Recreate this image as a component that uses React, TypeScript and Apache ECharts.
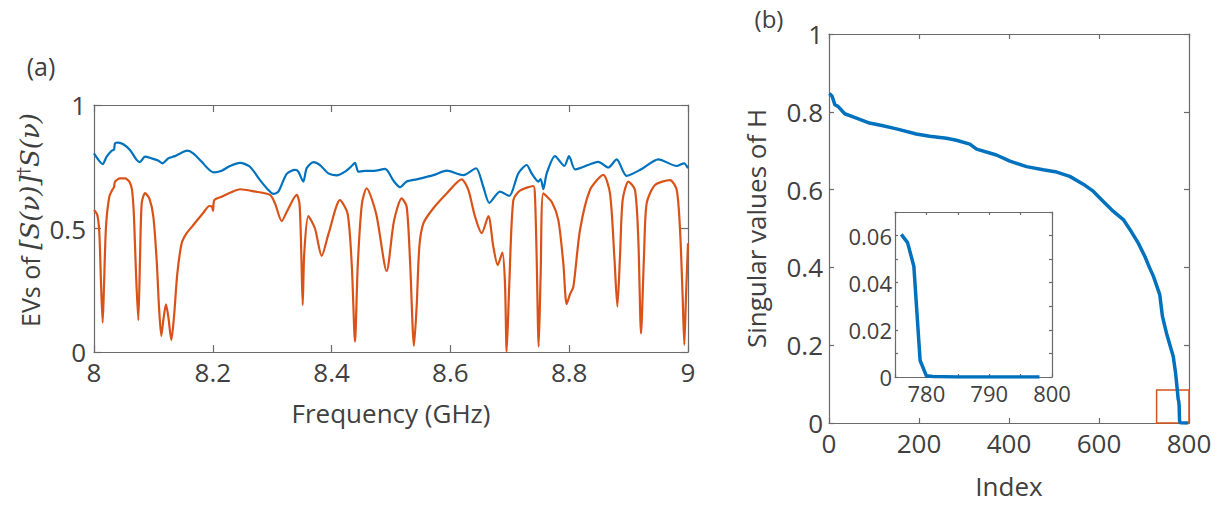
import React, { useEffect, useRef } from "react";
import * as echarts from "echarts";

// ---- Panel (a): eigenvalues vs frequency ----
const freqBlue = [
  8.0, 8.0146, 8.0213, 8.0297, 8.0337, 8.0354, 8.041, 8.0494, 8.0606, 8.0718, 8.0774, 8.0859, 8.097, 8.108,
  8.1156, 8.125, 8.136, 8.145, 8.157, 8.167, 8.181, 8.1925, 8.202, 8.215, 8.229, 8.2458, 8.2626, 8.2795,
  8.2935, 8.3019, 8.3104, 8.3244, 8.3384, 8.344, 8.3524, 8.358, 8.3693, 8.3805, 8.3945, 8.4085, 8.4226,
  8.4338, 8.4394, 8.445, 8.4562, 8.4703, 8.49, 8.5051, 8.5152, 8.5264, 8.5432, 8.5713, 8.5937, 8.6218,
  8.6431, 8.6554, 8.6655, 8.6835, 8.6992, 8.7143, 8.7284, 8.7368, 8.748, 8.752, 8.7565, 8.7621, 8.7761,
  8.7918, 8.7997, 8.8098, 8.821, 8.849, 8.8659, 8.8799, 8.8967, 8.922, 8.9501, 8.981, 8.9933, 9.0,
];
const evBlue = [
  0.804, 0.761, 0.791, 0.815, 0.82, 0.845, 0.848, 0.841, 0.818, 0.778, 0.769, 0.791, 0.784, 0.775,
  0.764, 0.784, 0.793, 0.804, 0.815, 0.804, 0.771, 0.741, 0.727, 0.734, 0.753, 0.766, 0.75, 0.696,
  0.656, 0.64, 0.649, 0.721, 0.737, 0.73, 0.69, 0.744, 0.769, 0.757, 0.723, 0.715, 0.73,
  0.753, 0.766, 0.73, 0.733, 0.733, 0.741, 0.69, 0.667, 0.69, 0.699, 0.716, 0.734, 0.716,
  0.744, 0.669, 0.604, 0.649, 0.632, 0.723, 0.757, 0.723, 0.69, 0.7, 0.659, 0.723, 0.793,
  0.753, 0.793, 0.739, 0.747, 0.77, 0.747, 0.78, 0.713, 0.741, 0.78, 0.753, 0.764, 0.744,
];
const freqOrange = [
  8.0, 8.0056, 8.009, 8.0118, 8.0146, 8.0168, 8.0202, 8.0258, 8.0314, 8.0337, 8.0354, 8.0438, 8.0522,
  8.0595, 8.064, 8.0673, 8.0707, 8.0746, 8.0774, 8.0803, 8.0859, 8.0932, 8.0999, 8.1055, 8.1094, 8.1133,
  8.1167, 8.1212, 8.1251, 8.1302, 8.1347, 8.1403, 8.1476, 8.156, 8.1672, 8.1841, 8.1942, 8.1987, 8.2003,
  8.2026, 8.215, 8.229, 8.2458, 8.27, 8.2963, 8.305, 8.316, 8.325, 8.3412, 8.346, 8.349, 8.3513, 8.354,
  8.3608, 8.372, 8.3833, 8.395, 8.4141, 8.427, 8.434, 8.4394, 8.444, 8.451, 8.459, 8.475, 8.4927, 8.505,
  8.518, 8.5264, 8.532, 8.5387, 8.5432, 8.5477, 8.5545, 8.5713, 8.5937, 8.619, 8.6302, 8.6415, 8.6527,
  8.6639, 8.6723, 8.6796, 8.6875, 8.6919, 8.6947, 8.6992, 8.7059, 8.7171, 8.7396, 8.7424, 8.7452, 8.7486,
  8.752, 8.7565, 8.7705, 8.7817, 8.7901, 8.7957, 8.8014, 8.807, 8.8182, 8.835, 8.8575, 8.8687, 8.876,
  8.8811, 8.8855, 8.89, 8.8996, 8.9108, 8.9164, 8.9209, 8.9259, 8.9304, 8.9445, 8.9697, 8.981, 8.9866,
  8.991, 8.9938, 8.9966, 9.0,
];
const evOrange = [
  0.575, 0.555, 0.481, 0.278, 0.119, 0.265, 0.508, 0.629, 0.659, 0.667, 0.69, 0.703, 0.703,
  0.69, 0.656, 0.548, 0.318, 0.129, 0.372, 0.602, 0.643, 0.622, 0.548, 0.372, 0.184, 0.065,
  0.129, 0.193, 0.143, 0.048, 0.143, 0.318, 0.44, 0.481, 0.514, 0.564, 0.591, 0.588, 0.572,
  0.615, 0.629, 0.645, 0.659, 0.65, 0.636, 0.6, 0.53, 0.57, 0.636, 0.6, 0.4, 0.19, 0.4,
  0.55, 0.5, 0.389, 0.48, 0.615, 0.56, 0.35, 0.042, 0.35, 0.6, 0.663, 0.56, 0.328, 0.53,
  0.622, 0.588, 0.372, 0.025, 0.184, 0.426, 0.521, 0.582, 0.642, 0.699, 0.656, 0.548, 0.481,
  0.55, 0.426, 0.352, 0.402, 0.278, 0.001, 0.278, 0.615, 0.653, 0.672, 0.629, 0.386, 0.022,
  0.318, 0.642, 0.608, 0.534, 0.359, 0.194, 0.234, 0.264, 0.494, 0.656, 0.717, 0.642, 0.386,
  0.184, 0.386, 0.615, 0.69, 0.656, 0.453, 0.075, 0.386, 0.602, 0.676, 0.696, 0.656, 0.494,
  0.224, 0.029, 0.224, 0.44,
];
const freqTicks = ["8", "8.2", "8.4", "8.6", "8.8", "9"];

// ---- Panel (b): singular values of H ----
const svIndex = [
  1, 7, 13, 20, 35, 61, 90, 120, 150, 194, 224, 261, 283, 313, 328, 372, 402, 439, 476, 506, 535, 565,
  587, 609, 632, 654, 669, 687, 702, 712, 721, 735, 741, 750, 765, 770, 774, 776, 777, 778, 779, 780,
  781, 785, 790, 795, 798,
];
const svValue = [
  0.847, 0.84, 0.818, 0.814, 0.795, 0.784, 0.771, 0.764, 0.756, 0.743, 0.737, 0.732, 0.727, 0.717,
  0.704, 0.689, 0.673, 0.659, 0.651, 0.645, 0.634, 0.614, 0.596, 0.57, 0.544, 0.523, 0.497, 0.463,
  0.428, 0.4, 0.377, 0.33, 0.274, 0.231, 0.171, 0.13, 0.085, 0.0605, 0.057, 0.047, 0.007, 0.0005,
  0.0002, 0, 0, 0, 0,
];
const insetFirstIndex = 776;
const zoomBox = [
  [728, 0],
  [800, 0.085],
];

const BLUE = "#0072BD";
const ORANGE = "#D95319";
const AXIS = "#6a6a6a";
const TEXT = "#404040";
const FONT = "'Open Sans', sans-serif";

function axisCommon(gridIndex: number, tickLen: number, fontSize: number, margin: number, show: boolean) {
  return {
    gridIndex,
    axisLine: { show: true, onZero: false, lineStyle: { color: AXIS, width: 1.2 } },
    axisTick: { show: true, inside: true, length: tickLen, lineStyle: { color: AXIS, width: 1.2 } },
    axisLabel: { show, color: TEXT, fontSize, fontFamily: FONT, margin },
    splitLine: { show: false },
  };
}

export default function App() {
  const ref = useRef<HTMLDivElement>(null);
  useEffect(() => {
    if (!ref.current) return;
    const chart = echarts.init(ref.current, null, { renderer: "svg" });

    const blueData = freqBlue.map((f, i) => [f, evBlue[i]]);
    const orangeData = freqOrange.map((f, i) => [f, evOrange[i]]);
    const svData = svIndex.map((x, i) => [x, svValue[i]]);
    const insetData = svData.filter((d) => d[0] >= insetFirstIndex);

    const freqFmt = (v: number) => {
      const idx = Math.round((v - 8) / 0.2);
      return freqTicks[idx] ?? "";
    };
    const numFmt = (v: number) => String(Math.round(v * 1000) / 1000);
    const nameStyle = { color: TEXT, fontSize: 26, fontFamily: FONT };

    const xAxes = [
      { ...axisCommon(0, 7, 26, 7, true), type: "value", position: "bottom", min: 8, max: 9, interval: 0.2,
        axisLabel: { ...axisCommon(0, 7, 26, 7, true).axisLabel, formatter: freqFmt },
        name: "Frequency (GHz)", nameLocation: "middle", nameGap: 48, nameTextStyle: nameStyle },
      { ...axisCommon(0, 7, 26, 7, false), type: "value", position: "top", min: 8, max: 9, interval: 0.2 },
      { ...axisCommon(1, 5, 26, 7, true), type: "value", position: "bottom", min: 0, max: 800, interval: 200,
        name: "Index", nameLocation: "middle", nameGap: 50, nameTextStyle: nameStyle },
      { ...axisCommon(1, 5, 26, 7, false), type: "value", position: "top", min: 0, max: 800, interval: 200 },
      { ...axisCommon(2, 3, 22, 5, true), type: "value", position: "bottom", min: 775, max: 800, interval: 5,
        axisLabel: { ...axisCommon(2, 3, 22, 5, true).axisLabel,
          formatter: (v: number) => (Math.round(v) % 10 === 0 ? String(Math.round(v)) : "") } },
      { ...axisCommon(2, 3, 22, 5, false), type: "value", position: "top", min: 775, max: 800, interval: 5 },
    ];
    const yAxes = [
      { ...axisCommon(0, 7, 26, 8, true), type: "value", position: "left", min: 0, max: 1, interval: 0.5,
        axisLabel: { ...axisCommon(0, 7, 26, 8, true).axisLabel, formatter: numFmt } },
      { ...axisCommon(0, 7, 26, 8, false), type: "value", position: "right", min: 0, max: 1, interval: 0.5 },
      { ...axisCommon(1, 5, 26, 6, true), type: "value", position: "left", min: 0, max: 1, interval: 0.2,
        axisLabel: { ...axisCommon(1, 5, 26, 6, true).axisLabel, formatter: numFmt },
        name: "Singular values of H", nameLocation: "middle", nameGap: 60, nameTextStyle: nameStyle },
      { ...axisCommon(1, 5, 26, 6, false), type: "value", position: "right", min: 0, max: 1, interval: 0.2 },
      { ...axisCommon(2, 3, 22, 3, true), type: "value", position: "left", min: 0, max: 0.07, interval: 0.01,
        axisLabel: { ...axisCommon(2, 3, 22, 3, true).axisLabel,
          formatter: (v: number) => {
            const k = Math.round(v * 100);
            return k % 2 === 0 ? String(k / 100) : "";
          } } },
      { ...axisCommon(2, 3, 22, 3, false), type: "value", position: "right", min: 0, max: 0.07, interval: 0.01 },
    ];

    chart.setOption({
      animation: false,
      backgroundColor: "#ffffff",
      grid: [
        { left: 94, top: 105, width: 594, height: 247, containLabel: false },
        { left: 829, top: 34, width: 360, height: 389, containLabel: false },
        { left: 895, top: 212, width: 157, height: 165, containLabel: false, show: true,
          backgroundColor: "#ffffff", borderWidth: 0 },
      ],
      xAxis: xAxes,
      yAxis: yAxes,
      series: [
        { type: "line", xAxisIndex: 0, yAxisIndex: 0, data: blueData, showSymbol: false, smooth: 0.25,
          lineStyle: { color: BLUE, width: 2.2 }, itemStyle: { color: BLUE } },
        { type: "line", xAxisIndex: 0, yAxisIndex: 0, data: orangeData, showSymbol: false, smooth: 0.25,
          lineStyle: { color: ORANGE, width: 2.2 }, itemStyle: { color: ORANGE } },
        { type: "line", xAxisIndex: 2, yAxisIndex: 2, data: svData, showSymbol: false,
          lineStyle: { color: BLUE, width: 3.5 }, itemStyle: { color: BLUE },
          markArea: { silent: true,
            itemStyle: { color: "rgba(0,0,0,0)", borderColor: ORANGE, borderWidth: 1.5 },
            data: [[{ coord: zoomBox[0] }, { coord: zoomBox[1] }]] } },
        { type: "line", xAxisIndex: 4, yAxisIndex: 4, data: insetData, showSymbol: false,
          lineStyle: { color: BLUE, width: 3.5 }, itemStyle: { color: BLUE } },
      ],
      graphic: [
        { type: "text", x: 41, y: 66, style: { text: "(a)", fill: TEXT, fontSize: 25, fontFamily: FONT,
          align: "center", verticalAlign: "middle" } },
        { type: "text", x: 769, y: 18, style: { text: "(b)", fill: TEXT, fontSize: 24, fontFamily: FONT,
          align: "center", verticalAlign: "middle" } },
        { type: "text", x: 30, y: 220, rotation: Math.PI / 2,
          style: {
            text: "{a|EVs of}  {m|[S(ν)]}{d|†}{m|S(ν)}",
            fill: TEXT, align: "center", verticalAlign: "middle",
            rich: {
              a: { fontSize: 25, fontFamily: FONT, fill: TEXT, lineHeight: 32, verticalAlign: "middle" },
              m: { fontSize: 26, fontFamily: "'DejaVu Serif', serif", fontStyle: "italic", fill: TEXT,
                lineHeight: 32, verticalAlign: "middle" },
              d: { fontSize: 17, fontFamily: "'DejaVu Serif', serif", fill: TEXT, lineHeight: 32,
                verticalAlign: "top" },
            },
          } },
      ],
    });
    return () => chart.dispose();
  }, []);
  return (
    <div
      ref={ref}
      style={{ position: "fixed", left: 0, top: 0, width: 1229, height: 507, background: "#fff" }}
    />
  );
}
